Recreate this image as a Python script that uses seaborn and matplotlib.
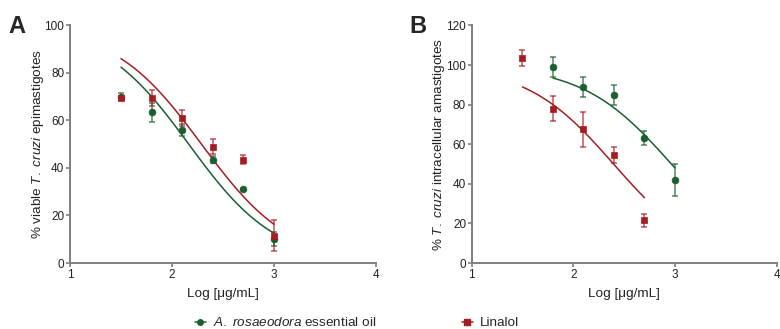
import numpy as np
import pandas as pd
import matplotlib
matplotlib.use("Agg")
import matplotlib.pyplot as plt
from matplotlib.lines import Line2D
import seaborn as sns

sns.set_style("ticks")
plt.rcParams["font.family"] = ["Liberation Sans", "DejaVu Sans"]
plt.rcParams["mathtext.fontset"] = "custom"
plt.rcParams["mathtext.rm"] = "Liberation Sans"
plt.rcParams["mathtext.it"] = "Liberation Sans:italic"

GREEN = "#1b5e2f"
RED = "#a51d24"

# panel A - epimastigotes
logc_a = [1.5, 1.8, 2.1, 2.4, 2.7, 3.0]
oil_a = [70, 63.5, 56, 43.5, 31, 10]
oil_a_err = [1.5, 4, 2.5, 1.5, 0, 3]
lin_a = [69.5, 69.5, 61, 49, 43.5, 11.5]
lin_a_err = [1, 3.5, 3.5, 3, 2, 6.5]

# panel B - intracellular amastigotes
logc_oil_b = [1.8, 2.1, 2.4, 2.7, 3.0]
oil_b = [99, 89, 85, 63, 42]
oil_b_err = [5, 5, 5, 3.5, 8]
logc_lin_b = [1.5, 1.8, 2.1, 2.4, 2.7]
lin_b = [103.5, 78, 67.5, 54.5, 21.5]
lin_b_err = [4, 6.5, 9, 4, 3.5]

# fitted dose-response (logIC50, hill slope), top 100 bottom 0
fit_oil_a = (2.165, 1.01)
fit_lin_a = (2.29, 1.0)
fit_oil_b = (2.965, 0.99)
fit_lin_b = (2.396, 1.01)


def hill(x, p):
    return 100 / (1 + 10 ** ((x - p[0]) * p[1]))


def draw(ax, x, y, err, fit, color, marker, ms):
    xs = np.linspace(min(x), max(x), 100)
    sns.lineplot(x=xs, y=hill(xs, fit), color=color, lw=1.1, ax=ax)
    ax.errorbar(x, y, yerr=err, fmt="none", ecolor=color, elinewidth=1.1,
                capsize=2.5, capthick=1.1, alpha=0.75)
    sns.scatterplot(x=x, y=y, color=color, marker=marker, s=ms,
                    edgecolor=color, linewidth=0.5, ax=ax, zorder=5)


fig = plt.figure(figsize=(7.8, 3.29), dpi=100)
axA = fig.add_axes([0.0897, 0.2006, 0.3923, 0.722])
axB = fig.add_axes([0.6047, 0.2006, 0.391, 0.722])

draw(axA, logc_a, oil_a, oil_a_err, fit_oil_a, GREEN, "o", 24)
draw(axA, logc_a, lin_a, lin_a_err, fit_lin_a, RED, "s", 24)
draw(axB, logc_oil_b, oil_b, oil_b_err, fit_oil_b, GREEN, "o", 24)
draw(axB, logc_lin_b, lin_b, lin_b_err, fit_lin_b, RED, "s", 24)

for ax, ymax, step in [(axA, 100, 20), (axB, 120, 20)]:
    ax.set_xlim(1, 4)
    ax.set_ylim(0, ymax)
    ax.set_xticks([1, 2, 3, 4])
    ax.set_yticks(np.arange(0, ymax + 1, step))
    sns.despine(ax=ax)
    for s in ["left", "bottom"]:
        ax.spines[s].set_color("#7f7f7f")
        ax.spines[s].set_linewidth(1.4)
    ax.tick_params(colors="#7f7f7f", labelcolor="#222222", labelsize=8.5,
                   length=3, width=1.2, pad=1)
    ax.set_xlabel("Log [\u03bcg/mL]", fontsize=9.7, color="#222222", labelpad=5)

axA.set_ylabel("% viable $\\it{T.\\ cruzi}$ epimastigotes", fontsize=9.7,
               color="#222222", labelpad=-1)
axB.set_ylabel("% $\\it{T.\\ cruzi}$ intracellular amastigotes", fontsize=9.7,
               color="#222222", labelpad=-0.5)

fig.text(0.011, 0.9, "A", fontsize=17, fontweight="bold")
fig.text(0.525, 0.9, "B", fontsize=17, fontweight="bold")

handles = [
    Line2D([], [], color=GREEN, marker="o", ms=4, lw=1.1),
    Line2D([], [], color=RED, marker="s", ms=4, lw=1.1),
]
fig.legend(handles, ["$\\it{A.\\ rosaeodora}$ essential oil", "Linalol"],
           loc="center left", bbox_to_anchor=(0.25, 0.019), ncol=2,
           frameon=False, fontsize=9.7, handlelength=0.8, handletextpad=0.5,
           columnspacing=6.4, borderpad=0, borderaxespad=0)

fig.savefig("out.png", dpi=100)
